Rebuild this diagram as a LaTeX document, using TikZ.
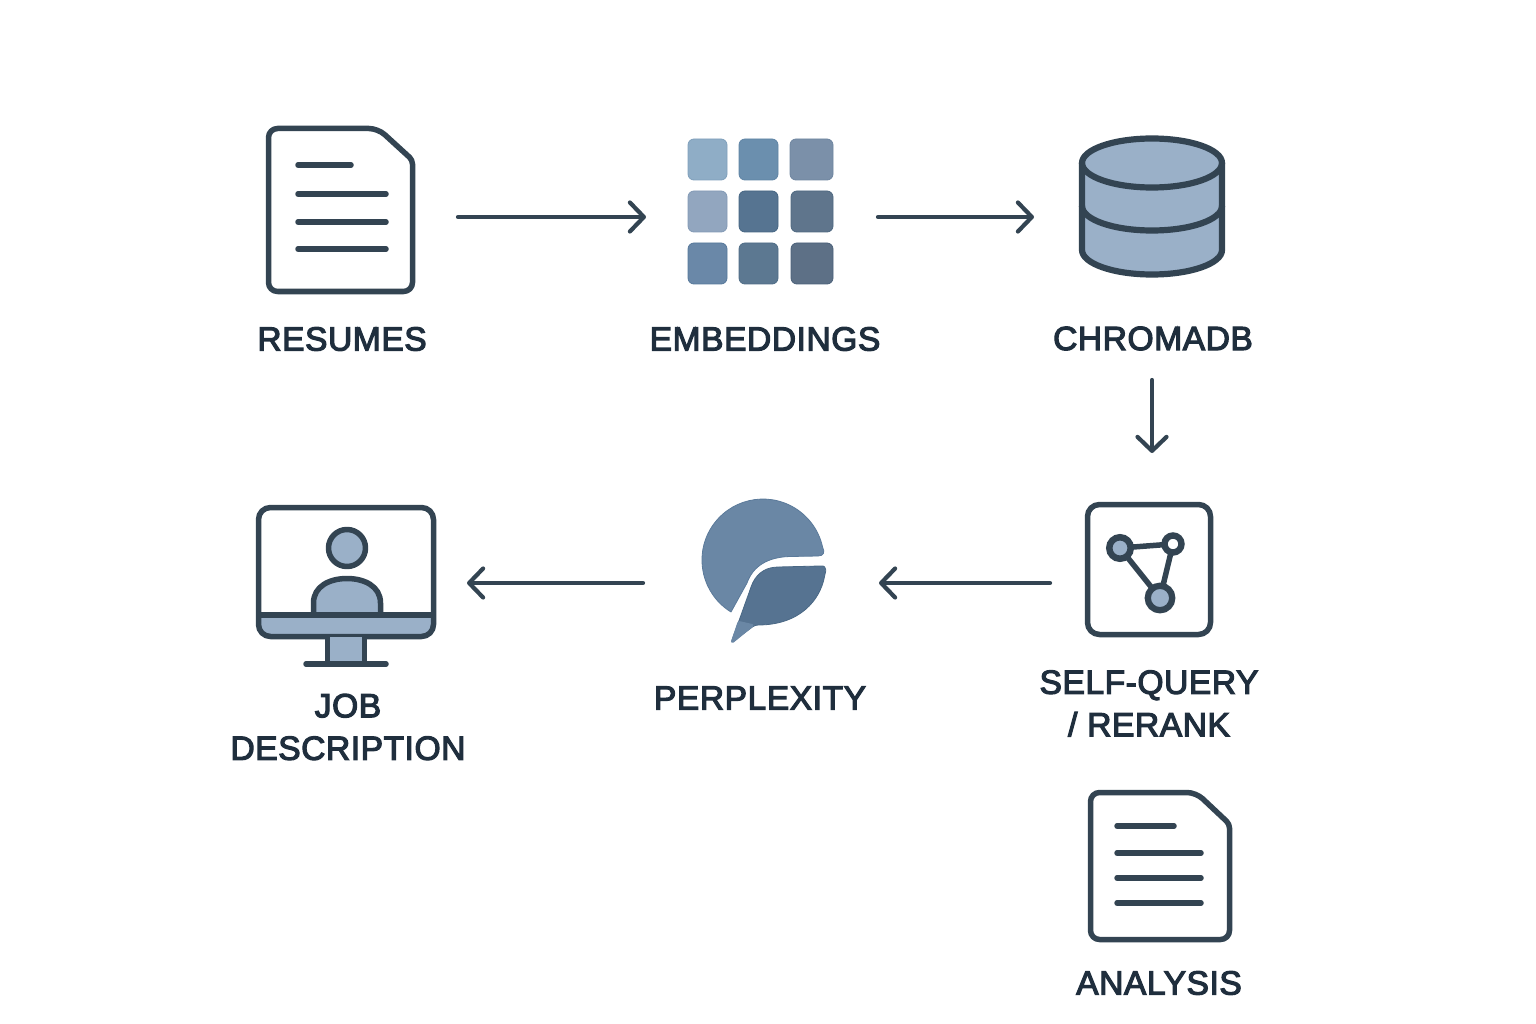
\documentclass[tikz,border=0pt]{standalone}
\usepackage{fontspec}
\setmainfont{Liberation Sans}
\newfontfamily\labfont[FakeBold=3.4,LetterSpace=1.6]{Liberation Sans}
\usetikzlibrary{arrows.meta}
\definecolor{ink}{HTML}{334452}
\definecolor{txt}{HTML}{1F2E3D}
\definecolor{pale}{HTML}{9AB0C8}
\definecolor{bubA}{HTML}{6A87A5}
\definecolor{bubAe}{HTML}{5B7A9A}
\definecolor{bubB}{HTML}{567391}
\definecolor{bubBe}{HTML}{4A6885}
\tikzset{
  x=1pt,y=-1pt,
  slot/.style={inner sep=0pt,outer sep=0pt,draw=none},
  lbl/.style={inner sep=0pt,text=txt,align=center,font=\fontsize{33.6}{42.5}\selectfont\labfont},
  flow/.style={draw=ink,line width=4.2pt,line cap=round,shorten <=2pt,-{Straight Barb[length=14pt,width=29pt,line width=4.2pt,round]}},
  icon/.style={draw=ink,line width=5.5pt,line join=round,line cap=round},
  tile/.style={rounded corners=6pt,line width=0.8pt},
  gnode/.style={circle,draw=ink,inner sep=0pt,outer sep=0pt},
}
\begin{document}
\begin{tikzpicture}
\useasboundingbox (0,0) rectangle (1536,1024);
% layout slots
\node[slot,minimum width=230pt,minimum height=200pt] (resumes) at (341,217) {};
\node[slot,minimum width=230pt,minimum height=200pt] (embed) at (761,217) {};
\node[slot,minimum width=236pt,minimum height=322pt] (chroma) at (1152,217) {};
\node[slot,minimum width=200pt,minimum height=260pt] (rerank) at (1152,583) {};
\node[slot,minimum width=234pt,minimum height=160pt] (perp) at (762,583) {};
\node[slot,minimum width=240pt,minimum height=160pt] (jd) at (347,583) {};
% resumes document
\draw[icon,fill=white,rounded corners=9pt] (268.5,128.5) -- (378,128.5) [rounded corners=4pt] -- (412.5,160) [rounded corners=9pt] -- (412.5,291.5) -- (268.5,291.5) -- cycle;
\draw[icon] (298,165) -- (351,165);
\foreach \y in {194,222,249} \draw[icon] (298,\y) -- (386,\y);
% embeddings grid
\foreach \xa/\xb/\ya/\yb/\c/\e in {
 688/727/139/180/8FADC6/7F9FBB, 739/778/139/180/6B8FAE/5F84A5, 790/833/139/180/7B90A9/6E85A0,
 688/727/191/232/92A6BF/8299B5, 739/778/191/232/567491/456582, 791/833/191/232/5F758C/4E6880,
 688/727/243/284/6A88A8/56789A, 739/778/243/284/5C7891/4E6C86, 791/833/243/284/5D7086/4A6079}{
  \definecolor{tf}{HTML}{\c}\definecolor{te}{HTML}{\e}
  \draw[tile,fill=tf,draw=te] (\xa,\ya) rectangle (\xb,\yb);
}
% chromadb cylinder
\draw[icon,line width=6.2pt,fill=pale] (1082,163) -- (1082,250) arc[start angle=180,end angle=0,x radius=70,y radius=24.5] -- (1222,163) arc[start angle=0,end angle=-180,x radius=70,y radius=24.5] -- cycle;
\draw[icon,line width=6.2pt] (1082,163) arc[start angle=180,end angle=0,x radius=70,y radius=24.5];
\draw[icon,line width=6.2pt] (1082,206) arc[start angle=180,end angle=0,x radius=70,y radius=24.5];
% self-query / rerank
\draw[icon,rounded corners=12pt] (1087.5,504.5) rectangle (1210.5,634.5);
\draw[icon,line cap=butt] (1120,548) -- (1173,544) -- (1160,598) -- cycle;
\node[gnode,fill=pale,line width=6.5pt,minimum size=21.5pt] (ga) at (1120,548) {};
\node[gnode,fill=white,line width=6.4pt,minimum size=17pt] (gb) at (1173,544) {};
\node[gnode,fill=pale,line width=6.3pt,minimum size=24.5pt] (gc) at (1160,598) {};
% perplexity
\filldraw[fill=bubA,draw=bubAe,line width=0.8pt,line join=round] (731,612) arc[start angle=121.6,end angle=347.8,radius=61] .. controls (825,552) and (824,556) .. (818,556) -- (790,556.5) .. controls (768,557) and (753,566) .. (747,583) -- cycle;
\filldraw[fill=bubB,draw=bubBe,line width=0.8pt,rounded corners=3pt] (731,643) -- (750,590) .. controls (755,575) and (764,568) .. (778,567) -- (820,566) .. controls (825,566) and (826,570) .. (825,574) .. controls (820,600) and (800,625) .. (755,625) -- cycle;
\filldraw[fill=bubA,draw=bubA,line width=3pt,line join=round] (732.5,641.5) -- (739,622.5) -- (752,625.5) -- cycle;
% job description monitor
\fill[white,rounded corners=12pt] (258.5,507.5) rectangle (433.5,636.5);
\fill[pale,rounded corners=10pt] (258.5,600) rectangle (433.5,636.5);
\fill[white] (258.5,595) rectangle (433.5,615);
\draw[icon,rounded corners=12pt] (258.5,507.5) rectangle (433.5,636.5);
\draw[icon,fill=pale] (313.5,615) -- (313.5,603) .. controls (313.5,586) and (330,578.5) .. (347,578.5) .. controls (364,578.5) and (380.5,586) .. (380.5,603) -- (380.5,615);
\draw[icon,line cap=butt] (258.5,615) -- (433.5,615);
\draw[icon,fill=pale] (347,548) circle[radius=18.5];
\draw[icon,fill=pale,line cap=butt] (327.5,637) -- (327.5,664) -- (364.5,664) -- (364.5,637);
\draw[icon] (306,664) -- (386,664);
% analysis document
\draw[icon,fill=white,rounded corners=9pt] (1090.5,792.5) -- (1196,792.5) [rounded corners=4pt] -- (1229.5,824) [rounded corners=9pt] -- (1229.5,939.5) -- (1090.5,939.5) -- cycle;
\draw[icon] (1117,826) -- (1174,826);
\foreach \y in {853,878,903} \draw[icon] (1117,\y) -- (1201,\y);
% labels
\node[lbl] (t1) at (342,339) {RESUMES};
\node[lbl] (t2) at (765,339) {EMBEDDINGS};
\node[lbl] (t3) at (1153,338.5) {CHROMADB};
\node[lbl] (t4) at (1149,703.5) {SELF-QUERY\\/ RERANK};
\node[lbl] (t5) at (760,698) {PERPLEXITY};
\node[lbl] (t6) at (348,727) {JOB\\DESCRIPTION};
\node[lbl] (t7) at (1159,983) {ANALYSIS};
% connectors
\draw[flow] (resumes.east) -- (embed.west);
\draw[flow] (embed.east) -- (chroma.west);
\draw[flow] (chroma.south) -- (rerank.north);
\draw[flow] (rerank.west) -- (perp.east);
\draw[flow] (perp.west) -- (jd.east);
\end{tikzpicture}
\end{document}
